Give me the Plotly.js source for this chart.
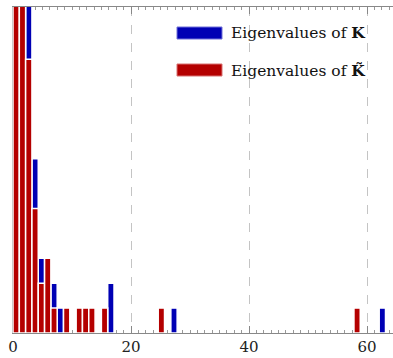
<!DOCTYPE html>
<html>
<head>
<meta charset="utf-8">
<script src="https://cdn.plot.ly/plotly-3.0.1.min.js"></script>
<style>html,body{margin:0;padding:0;background:#fff;}#chart{width:393px;height:358px;}</style>
</head>
<body>
<div id="chart"></div>
<script>
// Histogram bins (width in eigenvalue units) and counts
const binWidth = 1.07;
const binIndexK = [2, 3, 4, 6, 7, 15, 25, 58];
const countsK = [14, 7, 3, 2, 1, 2, 1, 1];
const binIndexKt = [0, 1, 2, 3, 4, 5, 6, 8, 10, 11, 12, 14, 23, 54];
const countsKt = [20, 16, 11, 5, 2, 3, 1, 1, 1, 1, 1, 1, 1, 1];
const tickVals = [0, 20, 40, 60];
const tickText = ['0', '20', '40', '60'];
const nameK = 'Eigenvalues of <b>K</b>';
const nameKt = 'Eigenvalues of <b>K\u0303</b>';

const blue = '#0000b4';
const red = '#b40000';
const centers = idx => idx.map(k => (k + 0.5) * binWidth);

const traces = [
  {type: 'bar', x: centers(binIndexK), y: countsK, width: binWidth, name: nameK,
   marker: {color: blue, line: {color: '#ffffff', width: 1.5}}, hoverinfo: 'skip'},
  {type: 'bar', x: centers(binIndexKt), y: countsKt, width: binWidth, name: nameKt,
   marker: {color: red, line: {color: '#ffffff', width: 1.5}}, hoverinfo: 'skip'}
];

const W = 393, H = 358, L = 13, R = 0, T = 7, B = 25;
const px = v => (v - L) / (W - L - R);
const py = v => (H - B - v) / (H - T - B);

const legendItems = [
  {color: blue, edge: '#7070d8', top: 27, text: nameK},
  {color: red, edge: '#d87070', top: 64, text: nameKt}
];
const shapes = [], annotations = [];
legendItems.forEach(it => {
  shapes.push({type: 'rect', xref: 'paper', yref: 'paper', x0: px(177), x1: px(222),
    y0: py(it.top + 12), y1: py(it.top), fillcolor: it.color, line: {color: it.edge, width: 1}});
  annotations.push({xref: 'paper', yref: 'paper', x: px(229), y: py(it.top + 6),
    xanchor: 'left', yanchor: 'middle', showarrow: false, text: it.text,
    font: {family: 'DejaVu Serif', size: 15.5, color: '#111'}});
});

const layout = {
  width: W, height: H,
  margin: {l: L, r: R, t: T, b: B, pad: 0},
  paper_bgcolor: '#fff', plot_bgcolor: '#fff',
  barmode: 'overlay',
  showlegend: false,
  xaxis: {
    range: [0, 64.4], tickvals: tickVals, ticktext: tickText,
    ticks: 'inside', ticklen: 7, tickcolor: '#888', tickwidth: 1,
    minor: {dtick: 1.25, ticks: 'inside', ticklen: 3, tickcolor: '#999', showgrid: false},
    showline: true, linecolor: '#888', linewidth: 1, mirror: 'ticks',
    showgrid: true, gridcolor: '#c4c4c4', griddash: 'dash', gridwidth: 1,
    zeroline: false, layer: 'below traces',
    tickfont: {family: 'DejaVu Serif', size: 15, color: '#222'},
    ticklabelstandoff: 0, fixedrange: true
  },
  yaxis: {
    range: [0, 13.1], showticklabels: false, ticks: '', showgrid: false,
    zeroline: false, showline: true, linecolor: '#cccccc', linewidth: 1,
    layer: 'below traces', fixedrange: true
  },
  shapes: shapes,
  annotations: annotations
};

Plotly.newPlot('chart', traces, layout, {displayModeBar: false, staticPlot: true});
</script>
</body>
</html>
